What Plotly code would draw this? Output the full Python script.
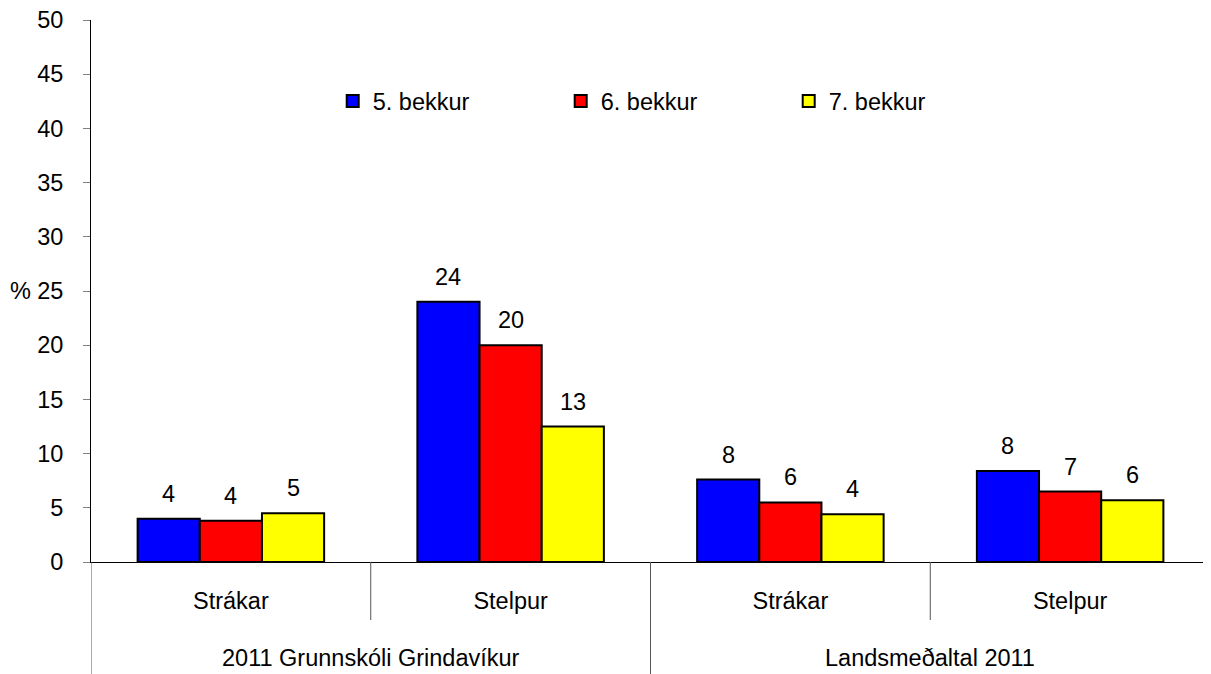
import plotly.graph_objects as go

# ---- data ----
inner_labels = ["Strákar", "Stelpur", "Strákar", "Stelpur"]
outer_labels = ["2011 Grunnskóli Grindavíkur", "Landsmeðaltal 2011"]
series_names = ["5. bekkur", "6. bekkur", "7. bekkur"]
bekkur5 = [4.0, 24.0, 7.6, 8.4]
bekkur6 = [3.8, 20.0, 5.5, 6.5]
bekkur7 = [4.5, 12.5, 4.4, 5.7]
colors = ["#0000FF", "#FF0000", "#FFFF00"]
y_ticks = list(range(0, 55, 5))

series_values = [bekkur5, bekkur6, bekkur7]
xpos = list(range(len(inner_labels)))
FONT = "Arial, Liberation Sans, sans-serif"
FS = 23.5
BARGAP = 1 / 3

# page body has an 8px margin; compensate in the figure margins
OFF = 8
W, H = 1211, 674
L, T = 91 - OFF, 20 - OFF
PLOT_W = 1210 - 91
PLOT_H = 562 - 20
R = W - L - PLOT_W
B = H - T - PLOT_H

fig = go.Figure()
for name, vals, col in zip(series_names, series_values, colors):
    fig.add_trace(go.Bar(
        x=xpos, y=vals, name=name,
        marker=dict(color=col, line=dict(color="black", width=2)),
    ))

def half_up(v):
    return str(int(v + 0.5))

n = len(series_values)
bw = (1 - BARGAP) / n
annotations = []
for k, vals in enumerate(series_values):
    off = (k - (n - 1) / 2) * bw
    for i, v in enumerate(vals):
        annotations.append(dict(
            x=xpos[i] + off, y=v, xref="x", yref="y", text=half_up(v),
            showarrow=False, yanchor="middle", yshift=25,
            font=dict(family=FONT, size=FS, color="black")))

# outer group labels
for g, lab in enumerate(outer_labels):
    annotations.append(dict(
        x=2 * g + 0.5, y=-(658 - 562) / PLOT_H, xref="x", yref="paper",
        text=lab, showarrow=False, yanchor="middle", xanchor="center",
        font=dict(family=FONT, size=FS, color="black")))

# "%" label
annotations.append(dict(
    x=-(91 - 20) / PLOT_W, y=25, xref="paper", yref="y", text="%",
    showarrow=False, xanchor="center", yanchor="middle",
    font=dict(family=FONT, size=FS, color="black")))

shapes = []
for b in range(len(inner_labels) + 1):
    xb = b - 0.5
    long = (b % 2 == 0)
    shapes.append(dict(
        type="line", xref="x", yref="paper", x0=xb, x1=xb, y0=0,
        y1=-(676 - 562) / PLOT_H if long else -(620 - 562) / PLOT_H,
        line=dict(color="#555555", width=1)))

fig.update_layout(
    width=W, height=H,
    margin=dict(l=L, r=R, t=T, b=B, autoexpand=False),
    paper_bgcolor="white", plot_bgcolor="white",
    barmode="group", bargap=BARGAP, bargroupgap=0,
    font=dict(family=FONT, size=FS, color="black"),
    legend=dict(orientation="h", x=0.216, xanchor="left", y=0.85,
                yanchor="middle", entrywidth=183, entrywidthmode="pixels",
                font=dict(family=FONT, size=FS, color="black"),
                bgcolor="rgba(0,0,0,0)"),
    annotations=annotations,
    shapes=shapes,
    showlegend=True,
)
fig.update_xaxes(
    range=[-0.5, len(inner_labels) - 0.5], tickvals=xpos, ticktext=inner_labels,
    ticks="", showline=True, linecolor="black", linewidth=1,
    showgrid=False, zeroline=False, ticklabelstandoff=18, automargin=False,
    tickfont=dict(family=FONT, size=FS, color="black"))
fig.update_yaxes(
    range=[0, 50], tickvals=y_ticks, ticks="outside", ticklen=7,
    tickcolor="#808080", showline=True, linecolor="black", linewidth=1,
    showgrid=False, zeroline=False, ticklabelstandoff=15, automargin=False,
    ticklabeloverflow="allow",
    tickfont=dict(family=FONT, size=FS, color="black"))

fig.write_html("out.html")
